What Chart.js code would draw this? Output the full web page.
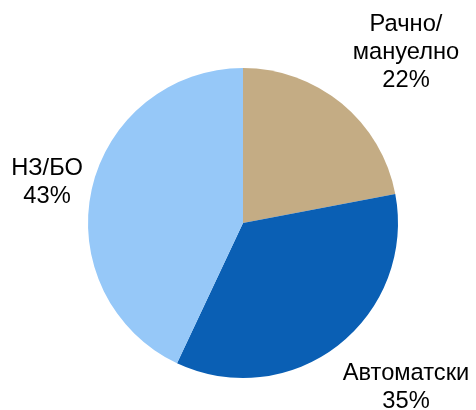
<!DOCTYPE html>
<html>
<head>
<meta charset="utf-8">
<script src="https://cdn.jsdelivr.net/npm/chart.js@4/dist/chart.umd.min.js"></script>
<style>
  html, body { margin: 0; padding: 0; background: #fff; }
  #wrap { width: 476px; height: 410px; }
</style>
</head>
<body>
<div id="wrap"><canvas id="pieChart" width="476" height="410"></canvas></div>
<script>
const categories = ['Рачно/\nмануелно', 'Автоматски', 'НЗ/БО'];
const shares = [22, 35, 43];
const sliceColors = ['#C4AC84', '#0A5FB4', '#96C8F8'];

// centre x and first baseline of each label block
const labelSpots = [
    { x: 406, y: 31 },
    { x: 406, y: 380 },
    { x: 47, y: 175 }
];

const sliceLabels = {
    id: 'sliceLabels',
    afterDatasetsDraw(chart) {
        const ctx = chart.ctx;
        const values = chart.data.datasets[0].data;
        ctx.save();
        ctx.font = '23.7px "Liberation Sans", Arial, sans-serif';
        ctx.fillStyle = '#000';
        ctx.textAlign = 'center';
        ctx.textBaseline = 'alphabetic';
        const lineH = 28;
        chart.data.labels.forEach((label, i) => {
            const lines = label.split('\n').concat([values[i] + '%']);
            const spot = labelSpots[i];
            lines.forEach((line, j) => ctx.fillText(line, spot.x, spot.y + j * lineH));
        });
        ctx.restore();
    }
};

new Chart(document.getElementById('pieChart').getContext('2d'), {
    type: 'pie',
    data: {
        labels: categories,
        datasets: [{
            data: shares,
            backgroundColor: sliceColors,
            borderWidth: 0
        }]
    },
    options: {
        responsive: false,
        animation: false,
        layout: { padding: { left: 88, right: 78, top: 68, bottom: 32 } },
        plugins: {
            legend: { display: false },
            tooltip: { enabled: false }
        }
    },
    plugins: [sliceLabels]
});
</script>
</body>
</html>
